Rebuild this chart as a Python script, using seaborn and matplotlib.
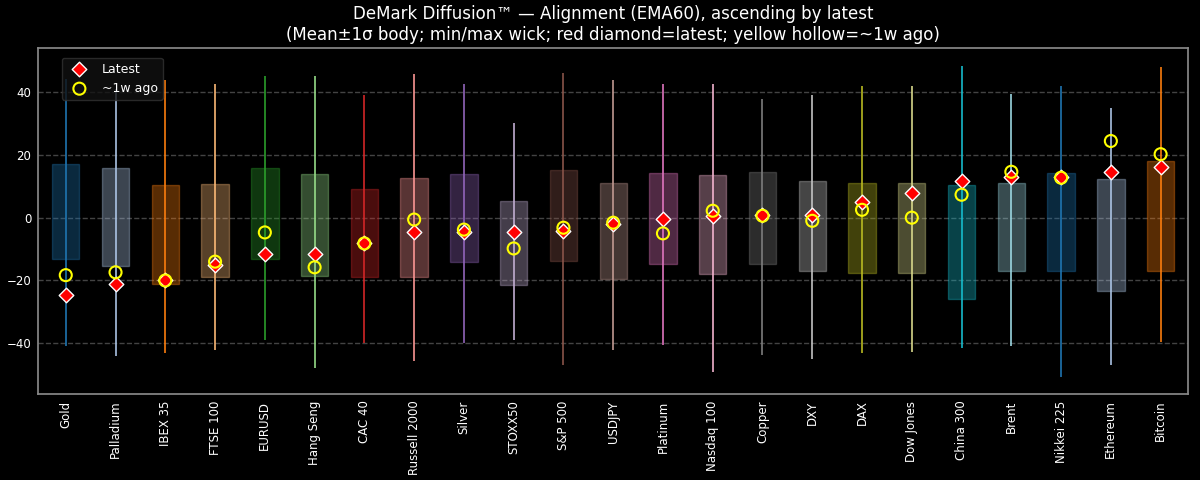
import matplotlib
matplotlib.use("Agg")
import matplotlib.pyplot as plt
import numpy as np
import pandas as pd
import seaborn as sns

sns.set_theme(style="dark")
plt.style.use("dark_background")
plt.rcParams["font.family"] = ["DejaVu Sans"]

assets = ["Gold", "Palladium", "IBEX 35", "FTSE 100", "EURUSD", "Hang Seng", "CAC 40",
          "Russell 2000", "Silver", "STOXX50", "S&P 500", "USDJPY", "Platinum", "Nasdaq 100",
          "Copper", "DXY", "DAX", "Dow Jones", "China 300", "Brent", "Nikkei 225",
          "Ethereum", "Bitcoin"]
body_hi = [17.0, 15.8, 10.4, 10.8, 15.8, 14.0, 9.2, 12.7, 14.0, 5.4, 15.2, 11.0, 14.2, 13.6,
           14.6, 11.7, 11.0, 11.0, 10.4, 11.0, 14.2, 12.3, 18.0]
body_lo = [-13.0, -15.5, -21.0, -19.0, -13.3, -18.7, -19.0, -19.0, -14.2, -21.5, -13.9, -19.6,
           -14.6, -18.0, -14.6, -17.0, -17.7, -17.7, -26.0, -17.0, -17.0, -23.4, -17.0]
wick_hi = [44.0, 41.0, 43.7, 42.7, 45.0, 45.0, 39.0, 45.6, 42.4, 30.0, 46.0, 43.7, 42.4, 42.4,
           37.7, 39.0, 42.0, 42.0, 48.4, 39.5, 41.8, 34.8, 48.0]
wick_lo = [-41.0, -44.0, -43.0, -42.0, -39.0, -48.0, -40.0, -45.6, -40.0, -39.0, -46.8, -42.0,
           -40.5, -49.0, -43.7, -45.0, -43.0, -42.7, -41.5, -41.0, -50.6, -47.0, -39.6]
latest = [-24.7, -21.0, -20.0, -15.0, -11.7, -11.7, -8.2, -4.7, -4.7, -4.7, -4.4, -1.9, -0.3,
          0.6, 0.9, 1.0, 5.0, 8.0, 11.7, 13.0, 13.0, 14.6, 16.1]
week_ago = [-18.3, -17.4, -20.0, -14.0, -4.7, -15.8, -8.2, -0.6, -3.8, -9.8, -3.2, -1.6, -5.0,
            2.2, 0.6, -1.0, 2.5, 0.0, 7.3, 14.6, 12.7, 24.4, 20.2]

df = pd.DataFrame({"asset": assets, "latest": latest, "week_ago": week_ago})
colors = [plt.cm.tab20(i % 20) for i in range(len(assets))]
x = np.arange(len(assets))

fig, ax = plt.subplots(figsize=(12, 4.8), dpi=100)
fig.patch.set_facecolor("black")
ax.set_facecolor("black")

for i, c in enumerate(colors):
    ax.vlines(x[i], wick_lo[i], wick_hi[i], color=c, lw=1.3, alpha=0.9, zorder=2)
    ax.bar(x[i], body_hi[i] - body_lo[i], bottom=body_lo[i], width=0.55,
           color=c, alpha=0.35, edgecolor=c, lw=1, zorder=3)

sns.scatterplot(data=df, x="asset", y="latest", marker="D", s=55, color="red",
                edgecolor="white", linewidth=1, zorder=5, ax=ax, label="Latest")
sns.scatterplot(data=df, x="asset", y="week_ago", marker="o", s=75, facecolor="none",
                edgecolor="yellow", linewidth=1.5, zorder=6, ax=ax, label="~1w ago")

ax.set_xticks(x)
ax.set_xticklabels(assets, rotation=90, fontsize=8.5)
ax.tick_params(axis="y", labelsize=8.5)
ax.tick_params(axis="both", length=3, pad=2)
ax.set_xlim(-0.55, len(assets) - 0.45)
ax.set_ylim(-56, 54)
ax.set_yticks([-40, -20, 0, 20, 40])
ax.set_xlabel("")
ax.set_ylabel("")
ax.grid(axis="y", ls="--", color="#555555", alpha=0.8)
ax.grid(axis="x", visible=False)
for s in ax.spines.values():
    s.set_color("#888888")
ax.legend(loc="upper left", bbox_to_anchor=(0.015, 0.99), facecolor="#111111",
          edgecolor="#333333", fontsize=9)
ax.set_title("DeMark Diffusion™ — Alignment (EMA60), ascending by latest\n"
             "(Mean±1σ body; min/max wick; red diamond=latest; yellow hollow=~1w ago)",
             fontsize=12)
fig.subplots_adjust(left=0.032, right=0.99, top=0.9, bottom=0.18)
fig.savefig("out.png", facecolor="black")
